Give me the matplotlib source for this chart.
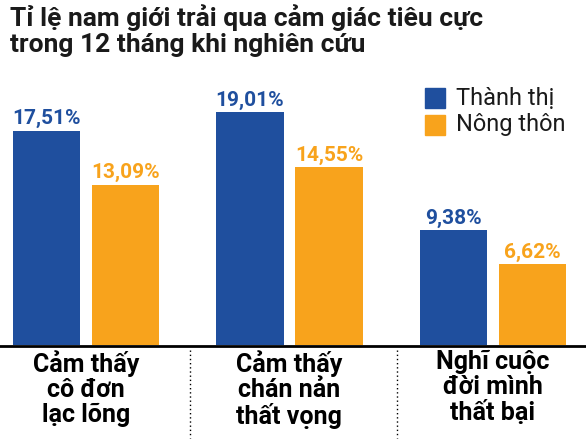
import matplotlib
matplotlib.use("Agg")
import matplotlib.pyplot as plt
from matplotlib.patches import Rectangle
import numpy as np

plt.rcParams['font.family'] = ['Roboto', 'DejaVu Sans']

categories = ["Cảm thấy\ncô đơn\nlạc lõng", "Cảm thấy\nchán nản\nthất vọng", "Nghĩ cuộc\nđời mình\nthất bại"]
urban = [17.51, 19.01, 9.38]
rural = [13.09, 14.55, 6.62]
series_names = ["Thành thị", "Nông thôn"]
title = "Tỉ lệ nam giới trải qua cảm giác tiêu cực\ntrong 12 tháng khi nghiên cứu"

BLUE = "#1f4f9e"
ORANGE = "#f8a31c"
W, H = 586, 440
fig = plt.figure(figsize=(W/100, H/100), dpi=100)
ax = fig.add_axes([0, (H-345)/H, 1, (345-82)/H])
x = np.arange(len(categories))
bw, off = 0.33, 0.194
ax.bar(x-off, urban, bw, color=BLUE)
ax.bar(x+off, rural, bw, color=ORANGE)
for xi, u, r in zip(x, urban, rural):
    ax.text(xi-off, u+0.2, f"{u:.2f}%".replace(".", ","), ha="center", va="bottom",
            color=BLUE, fontsize=15, fontweight="bold")
    ax.text(xi+off, r+0.2, f"{r:.2f}%".replace(".", ","), ha="center", va="bottom",
            color=ORANGE, fontsize=15, fontweight="bold")
ax.set_xlim(-0.4226, 2.457)
ax.set_ylim(0, 21.5)
ax.axis("off")
fig.add_artist(plt.Line2D([0, 1], [(H-346)/H]*2, color="black", lw=2))
for cx, lab in zip([86, 289, 493], categories):
    fig.text(cx/W, (H-350)/H, lab, ha="center", va="top", fontsize=18,
             fontweight="bold", linespacing=1.05)
for sx in [190, 397]:
    fig.add_artist(plt.Line2D([sx/W]*2, [(H-350)/H, (H-438)/H], color="black",
                              lw=1, ls=(0, (1, 2))))
fig.text(10/W, 1-4/H, title, ha="left", va="top", fontsize=19, fontweight="bold",
         color="#1a1a1a", linespacing=1.1)
for i, (nm, c) in enumerate(zip(series_names, [BLUE, ORANGE])):
    y0 = 88 + i*27
    fig.add_artist(Rectangle((425/W, (H-y0-20)/H), 20/W, 20/H, color=c,
                             transform=fig.transFigure))
    fig.text(456/W, (H-y0-10)/H, nm, ha="left", va="center", fontsize=17, color="#1a1a1a")
fig.savefig("out.png", dpi=100)
